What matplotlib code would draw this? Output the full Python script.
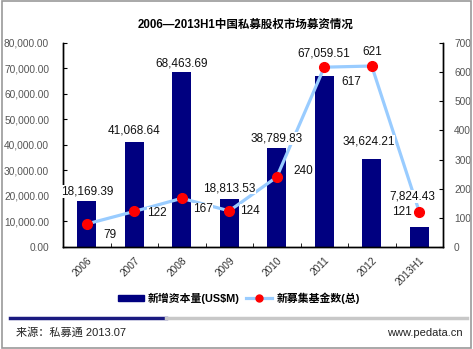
import matplotlib.pyplot as plt
from matplotlib.patches import Patch, Rectangle
from matplotlib.lines import Line2D
from matplotlib.ticker import FuncFormatter, MultipleLocator

plt.rcParams['font.family'] = ['Liberation Sans', 'Noto Sans CJK SC']

years = ['2006', '2007', '2008', '2009', '2010', '2011', '2012', '2013H1']
capital = [18169.39, 41068.64, 68463.69, 18813.53, 38789.83, 67059.51, 34624.21, 7824.43]
funds = [79, 122, 167, 124, 240, 617, 621, 121]

# label offsets in pixels (text placement only)
cap_off = [(0, 9), (0, 12), (0, 9), (0, 11), (0, 10), (-1, 22), (-3, 17), (-7, 31)]
fund_off = [(23, -11), (23, -2), (21, -11), (21, 0), (27, 6), (27, -15), (0, 14), (-17, 0)]

fig = plt.figure(figsize=(4.73, 3.49), dpi=100)
ax = fig.add_axes([0.1332, 0.2923, 0.8034, 0.5845])
ax2 = ax.twinx()

x = list(range(len(years)))
ax.bar(x, capital, width=0.4, color='#000080', zorder=2)
ax.set_xlim(-0.5, len(years) - 0.5)
ax.set_ylim(0, 80000)
ax.yaxis.set_major_locator(MultipleLocator(10000))
ax.yaxis.set_major_formatter(FuncFormatter(lambda v, p: f'{v:,.2f}'))

ax2.plot(x, funds, color='#99CCFF', lw=2.3, zorder=3)
ax2.plot(x, funds, ls='none', marker='o', ms=7, color='#FF0000', zorder=6)
ax2.set_ylim(0, 700)
ax2.yaxis.set_major_locator(MultipleLocator(100))

for a in (ax, ax2):
    a.spines['top'].set_visible(False)
    for s in a.spines.values():
        s.set_linewidth(1.0)
ax.tick_params(axis='y', direction='in', length=3, labelsize=7.3, labelcolor='#555555', pad=10)
ax2.tick_params(axis='y', direction='in', length=3, labelsize=7.3, labelcolor='#555555', pad=8)

ax.set_xticks(x)
ax.set_xticklabels(years, rotation=45, ha='right', va='top', rotation_mode='anchor', fontsize=7.3, color='#333333')
ax.tick_params(axis='x', which='major', length=0, pad=6)
ax.set_xticks([i + 0.5 for i in x[:-1]], minor=True)
ax.tick_params(axis='x', which='minor', direction='in', length=3)

box = dict(facecolor='white', edgecolor='none', pad=0.3)
for i, v in enumerate(capital):
    ax2.annotate(f'{v:,.2f}', (i, v), xycoords=ax.transData, xytext=cap_off[i],
                 textcoords='offset pixels', ha='center', va='center', fontsize=8.5,
                 color='#111111', bbox=box, zorder=5)
for i, v in enumerate(funds):
    ax2.annotate(str(v), (i, v), xytext=fund_off[i], textcoords='offset pixels',
                 ha='center', va='center', fontsize=8.5, color='#111111', bbox=box, zorder=5)

fig.text(0.52, 0.928, '2006—2013H1中国私募股权市场募资情况', ha='center', va='center',
         fontsize=8.3, fontweight='bold')

handles = [Patch(facecolor='#000080', edgecolor='#000080'),
           Line2D([], [], color='#99CCFF', lw=2.3, marker='o', ms=5,
                  markerfacecolor='#FF0000', markeredgecolor='#FF0000')]
fig.legend(handles, ['新增资本量(US$M)', '新募集基金数(总)'], loc='center',
           bbox_to_anchor=(0.505, 0.146), ncol=2, frameon=False, handlelength=2.4,
           handleheight=0.5, columnspacing=0.6, handletextpad=0.4,
           prop={'size': 7.8, 'weight': 'bold'})

fig.add_artist(Line2D([10 / 473, 166 / 473], [1 - 318 / 349] * 2, color='#1A1A80', lw=2.5,
                      transform=fig.transFigure))
fig.add_artist(Line2D([166 / 473, 467 / 473], [1 - 318 / 349] * 2, color='#C8C8C8', lw=2.5,
                      transform=fig.transFigure))
fig.text(16 / 473, 1 - 333 / 349, '来源：私募通 2013.07', ha='left', va='center', fontsize=8, color='#222222')
fig.text(463 / 473, 1 - 333 / 349, 'www.pedata.cn', ha='right', va='center', fontsize=8, color='#222222')

fig.add_artist(Rectangle((0.004, 0.004), 0.992, 0.992, fill=False, edgecolor='#999999', lw=1.2,
                         transform=fig.transFigure))

fig.savefig('out.png', dpi=100)
